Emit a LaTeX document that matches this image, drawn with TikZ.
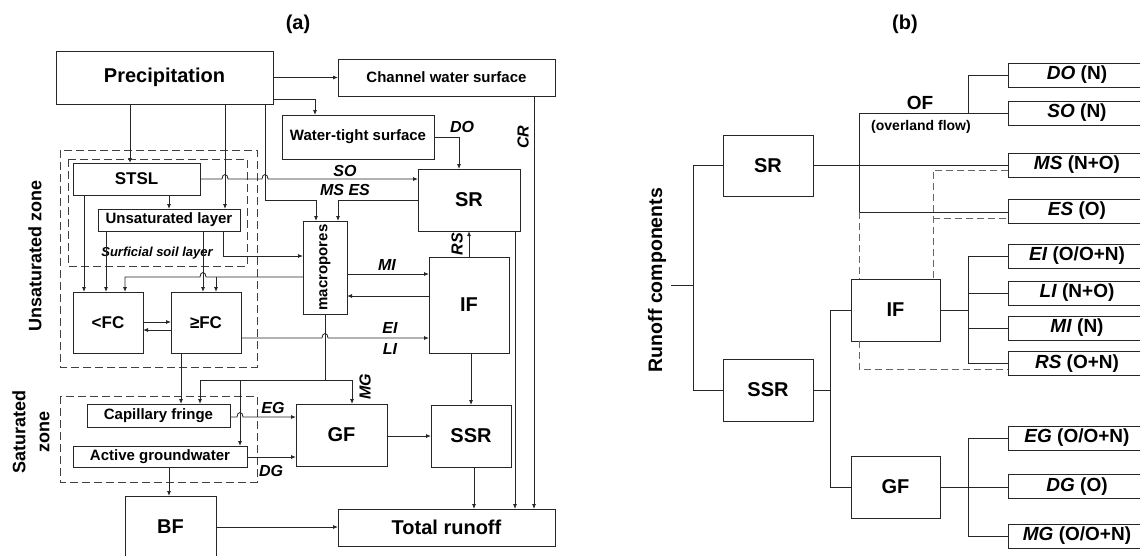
\documentclass[tikz,border=0pt]{standalone}
\usepackage{fontspec}
\setmainfont{Liberation Sans}
\usetikzlibrary{arrows.meta}
\begin{document}
\begin{tikzpicture}[x=1pt,y=-1pt,
  box/.style={draw=black!85, line width=0.9pt, inner sep=0pt, outer sep=0pt, align=center},
  fA/.style={font=\bfseries\fontsize{20}{24}\selectfont},
  fB/.style={font=\bfseries\fontsize{15}{18}\selectfont},
  fC/.style={font=\bfseries\fontsize{17}{20}\selectfont},
  rb/.style={box, font=\bfseries\fontsize{19}{22}\selectfont, minimum width=138pt, minimum height=24pt},
  lab/.style={font=\bfseries\itshape\fontsize{16}{19}\selectfont, inner sep=0pt},
  arr/.style={draw=black!85, line width=0.8pt, -{Latex[length=5pt,width=4pt]}},
  ln/.style={draw=black!85, line width=0.8pt},
  zone/.style={draw=black!75, line width=0.9pt, dash pattern=on 8pt off 4pt},
  gdash/.style={draw=black!60, line width=0.9pt, dash pattern=on 7pt off 4pt},
  ttl/.style={font=\bfseries\fontsize{20}{24}\selectfont},
  zl/.style={font=\bfseries\fontsize{18}{24}\selectfont, align=center}
]
\useasboundingbox (0,0) rectangle (1140,555);
\begin{scope}
\clip (0,0) rectangle (1140,555);

% titles
\node[ttl] (ta) at (298,24) {(a)};
\node[ttl] (tb) at (905,24) {(b)};

% ================= panel (a) =================
\draw[zone] (60,150) rectangle (257,367);
\draw[zone] (68,159) rectangle (247,266);
\draw[zone] (60,396) rectangle (257,482);

\node[zl, rotate=90] (uz) at (35,256) {Unsaturated zone};
\node[zl, rotate=90] (sz) at (31,432) {Saturated\\zone};

\node[box,fA,minimum width=217pt,minimum height=53pt] (prec) at (164.5,77.5) {Precipitation};
\node[box,fB,minimum width=217pt,minimum height=37pt] (chan) at (446.5,77.5) {Channel water surface};
\node[box,fB,minimum width=152pt,minimum height=44pt] (wts) at (358,137) {Water-tight surface};
\node[box,fA,minimum width=102pt,minimum height=62pt] (sr) at (469,200) {SR};
\node[box,fC,minimum width=127pt,minimum height=32pt] (stsl) at (136.5,179) {STSL};
\node[box,fB,minimum width=142pt,minimum height=22pt] (unsat) at (169,220) {Unsaturated layer};
\node[box,minimum width=44pt,minimum height=93pt] (macro) at (325,267.5) {};
\node[fB, rotate=90, inner sep=0pt] (macrot) at (macro.center) {macropores};
\node[box,fA,minimum width=80pt,minimum height=96pt] (if) at (469,305) {IF};
\node[box,fC,minimum width=70pt,minimum height=61pt] (lfc) at (108,322.5) {<FC};
\node[box,fC,minimum width=70pt,minimum height=61pt] (gfc) at (206,322.5) {≥FC};
\node[box,fB,minimum width=143pt,minimum height=23pt] (cap) at (158.5,415.5) {Capillary fringe};
\node[box,fB,minimum width=174pt,minimum height=21pt] (agw) at (160,456.5) {Active groundwater};
\node[box,fA,minimum width=91pt,minimum height=62pt] (gf) at (341.5,435) {GF};
\node[box,fA,minimum width=80pt,minimum height=62pt] (ssr) at (471,436) {SSR};
\node[box,fA,minimum width=217pt,minimum height=37pt] (tr) at (446.5,527.5) {Total runoff};
\node[box,fA,minimum width=91pt,minimum height=62pt] (bf) at (170.5,527) {BF};

\node[font=\bfseries\itshape\fontsize{13}{15}\selectfont] (lsurf) at (157,253) {Surficial soil layer};

% connectors (a)
\draw[arr] (prec.east) -- (chan.west);
\draw[arr] (prec.east |- 0,99) -- (315,99) -- (wts.north -| 315,0);
\draw[arr] (prec.south -| 265,0) -- (265,200) -- (316,200) -- (macro.north -| 316,0);
\draw[arr] (sr.west) -- (338,200) -- (macro.north -| 338,0);
\draw[arr] (stsl.east) -- (222,179) .. controls (222,173) and (228,173) .. (228,179) -- (262,179) .. controls (262,173) and (268,173) .. (268,179) -- (sr.west |- 0,179);
\draw[arr] (prec.south -| 130,0) -- (stsl.north -| 130,0);
\draw[arr] (prec.south -| 225,0) -- (unsat.north -| 225,0);
\draw[arr] (stsl.south -| 169,0) -- (unsat.north -| 169,0);
\draw[arr] (stsl.south -| 84,0) -- (lfc.north -| 84,0);
\draw[arr] (unsat.south -| 106,0) -- (lfc.north -| 106,0);
\draw[arr] (unsat.south -| 203,0) -- (gfc.north -| 203,0);
\draw[arr] (macro.west |- 0,277) -- (206,277) .. controls (206,271) and (200,271) .. (200,277) -- (125,277) -- (lfc.north -| 125,0);
\draw[arr] (216,277) -- (gfc.north -| 216,0);
\draw[arr] (unsat.south -| 223,0) -- (223,256) -- (macro.west |- 0,256);
\draw[arr] (lfc.east |- 0,322) -- (gfc.west |- 0,322);
\draw[arr] (gfc.west |- 0,330) -- (lfc.east |- 0,330);
\draw[arr] (macro.east |- 0,274) -- (if.west |- 0,274);
\draw[arr] (if.west |- 0,296) -- (macro.east |- 0,296);
\draw[arr] (gfc.east |- 0,338) -- (322,338) .. controls (322,332) and (328,332) .. (328,338) -- (if.west |- 0,338);
\draw[arr] (macro.south) -- (325,380) -| (gf.north -| 352,0);
\draw[arr] (325,380) -| (cap.north -| 200,0);
\draw[arr] (240,380) -- (agw.north -| 240,0);
\draw[arr] (gfc.south -| 181,0) -- (cap.north -| 181,0);
\draw[arr] (cap.east |- 0,417) -- (237,417) .. controls (237,411) and (243,411) .. (243,417) -- (gf.west |- 0,417);
\draw[arr] (agw.east |- 0,457) -- (gf.west |- 0,457);
\draw[arr] (gf.east |- 0,436) -- (ssr.west |- 0,436);
\draw[arr] (if.south -| 471,0) -- (ssr.north -| 471,0);
\draw[arr] (if.north -| 469,0) -- (sr.south -| 469,0);
\draw[arr] (ssr.south -| 474,0) -- (tr.north -| 474,0);
\draw[arr] (sr.south -| 515,0) -- (tr.north -| 515,0);
\draw[arr] (chan.south -| 534,0) -- (tr.north -| 534,0);
\draw[arr] (agw.south -| 169,0) -- (bf.north -| 169,0);
\draw[arr] (bf.east |- 0,527) -- (tr.west |- 0,527);
\draw[arr] (wts.east |- 0,137) -- (459,137) -- (sr.north -| 459,0);

% labels (a)
\node[lab] (lso) at (345,171) {SO};
\node[lab] (lmses) at (345,190) {MS ES};
\node[lab] (ldo) at (462,127) {DO};
\node[lab,rotate=90] (lcr) at (523,137) {CR};
\node[lab,rotate=90] (lrs) at (457,244) {RS};
\node[lab] (lmi) at (387,265) {MI};
\node[lab] (lei) at (390,328) {EI};
\node[lab] (lli) at (390,349) {LI};
\node[lab,rotate=90] (lmg) at (365,387) {MG};
\node[lab] (leg) at (273,408) {EG};
\node[lab] (ldg) at (271,471) {DG};

% ================= panel (b) =================
\node[font=\bfseries\fontsize{19.5}{22}\selectfont, rotate=90] (rc) at (657,280) {Runoff components};

\node[box,fA,minimum width=90pt,minimum height=61pt] (bsr) at (768,165.5) {SR};
\node[box,fA,minimum width=90pt,minimum height=62pt] (bssr) at (768,390) {SSR};
\node[box,fA,minimum width=89pt,minimum height=62pt] (bif) at (895.5,310) {IF};
\node[box,fA,minimum width=89pt,minimum height=62pt] (bgf) at (895.5,487) {GF};

\node[rb] (bdo) at (1077,75) {\textit{DO} (N)};
\node[rb] (bso) at (1077,113) {\textit{SO} (N)};
\node[rb] (bms) at (1077,165) {\textit{MS} (N+O)};
\node[rb] (bes) at (1077,211) {\textit{ES} (O)};
\node[rb] (bei) at (1077,256) {\textit{EI} (O/O+N)};
\node[rb] (bli) at (1077,293) {\textit{LI} (N+O)};
\node[rb] (bmi) at (1077,328) {\textit{MI} (N)};
\node[rb] (brs) at (1077,363.5) {\textit{RS} (O+N)};
\node[rb] (beg) at (1077,438) {\textit{EG} (O/O+N)};
\node[rb] (bdg) at (1077,486.5) {\textit{DG} (O)};
\node[rb] (bmg) at (1077,536) {\textit{MG} (O/O+N)};

\node[font=\bfseries\fontsize{19}{22}\selectfont] (of) at (920,103) {OF};
\node[font=\bfseries\fontsize{14}{16}\selectfont] (olf) at (921,127) {(overland flow)};

\coordinate (root) at (671,285);
\draw[ln] (root) -- (693,285);
\draw[ln] (bsr.west) -- (693,165.5) -- (693,390) -- (bssr.west);
\draw[ln] (bsr.east) -- (bsr.east -| bms.west);
\draw[ln] (859,113) -- (859,212);
\draw[ln] (859,113) -- (bso.west);
\draw[ln] (968,113) -- (968,75) -- (bdo.west);
\draw[ln] (859,212) -- (bes.west |- 0,212);
\draw[ln] (bssr.east) -- (830,390);
\draw[ln] (bif.west) -- (830,310) -- (830,487) -- (bgf.west);
\draw[ln] (bif.east) -- (968,310);
\draw[ln] (bei.west) -- (968,256) -- (968,363.5) -- (brs.west);
\draw[ln] (968,293) -- (bli.west);
\draw[ln] (968,328) -- (bmi.west);
\draw[ln] (bgf.east) -- (bgf.east -| bdg.west);
\draw[ln] (beg.west) -- (968,438) -- (968,536) -- (bmg.west);

\draw[gdash] (859,212) -- (bif.north -| 859,0);
\draw[gdash] (bms.west |- 0,170) -- (933,170) -- (bif.north -| 933,0);
\draw[gdash] (933,218) -- (bes.west |- 0,218);
\draw[gdash] (bif.south -| 859,0) -- (859,369) -- (brs.west |- 0,369);

\end{scope}
\end{tikzpicture}
\end{document}
